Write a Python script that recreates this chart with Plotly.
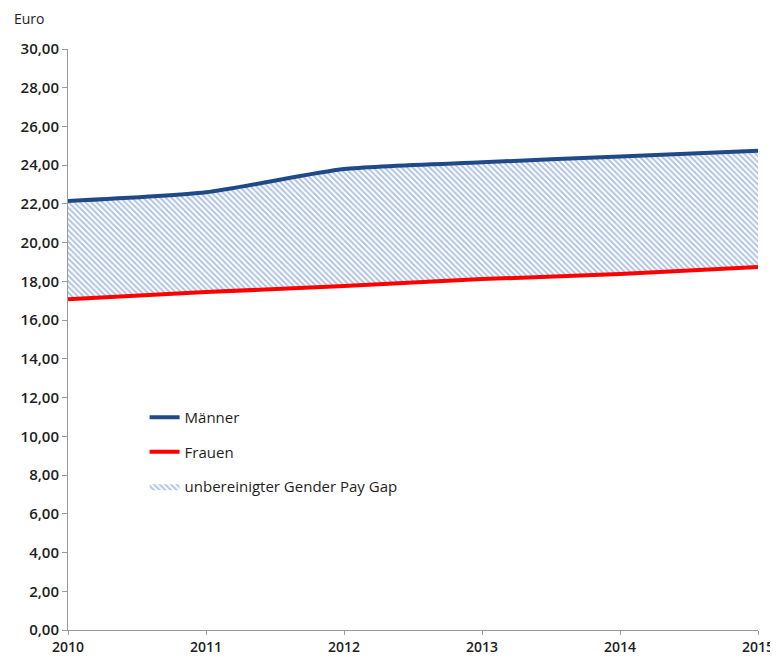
import plotly.graph_objects as go

years = [2010, 2011, 2012, 2013, 2014, 2015]
maenner = [22.15, 22.6, 23.8, 24.15, 24.45, 24.75]
frauen = [17.08, 17.45, 17.76, 18.12, 18.38, 18.74]
y_ticks = [0, 2, 4, 6, 8, 10, 12, 14, 16, 18, 20, 22, 24, 26, 28, 30]

navy = "#1F4A87"
red = "#FF0000"
font_fam = "Open Sans, Liberation Sans, Arial"
txt = "#1e1e1e"

fig = go.Figure()

# base (invisible) for the gap fill
fig.add_trace(go.Scatter(x=years, y=frauen, mode="lines", line=dict(width=0, color="rgba(0,0,0,0)"),
                         showlegend=False, hoverinfo="skip"))
fig.add_trace(go.Scatter(x=years, y=maenner, mode="lines",
                         line=dict(width=0, shape="spline", smoothing=0.6, color="rgba(0,0,0,0)"),
                         fill="tonexty", fillcolor="white",
                         fillpattern=dict(shape="\\", fgcolor="#6388C8", bgcolor="white", size=4, solidity=0.5),
                         name="unbereinigter Gender Pay Gap", legendgroup="c", legendrank=3))
fig.add_trace(go.Scatter(x=years, y=maenner, mode="lines", name="Männer",
                         line=dict(color=navy, width=4, shape="spline", smoothing=0.6),
                         legendgroup="a", legendrank=1))
fig.add_trace(go.Scatter(x=years, y=frauen, mode="lines", name="Frauen",
                         line=dict(color=red, width=4),
                         legendgroup="b", legendrank=2))

fig.update_layout(
    width=770, height=648,
    margin=dict(l=60, r=20, t=41, b=26),
    paper_bgcolor="white", plot_bgcolor="white",
    separators=",.",
    font=dict(family=font_fam, size=14, color=txt),
    showlegend=True,
    legend=dict(x=0.111, y=0.394, xanchor="left", yanchor="top",
                bgcolor="rgba(0,0,0,0)", tracegroupgap=12,
                font=dict(size=15, color=txt)),
    xaxis=dict(range=[2010, 2015], tickmode="array", tickvals=years,
               ticktext=[str(y) for y in years], showgrid=False, zeroline=False,
               showline=True, linecolor="#9a9a9a", linewidth=1,
               ticks="outside", ticklen=4, tickcolor="#9a9a9a", automargin=False,
               ticklabeloverflow="allow",
               tickfont=dict(size=14, color=txt, weight=600), fixedrange=True),
    yaxis=dict(range=[0, 30], tickmode="array", tickvals=y_ticks, tickformat=".2f",
               showgrid=False, zeroline=False, automargin=False,
               showline=True, linecolor="#9a9a9a", linewidth=1,
               ticks="outside", ticklen=5, tickcolor="#9a9a9a",
               tickfont=dict(size=15, color=txt, weight=600)),
)
fig.add_annotation(text="Euro", xref="paper", yref="paper", x=-0.081, y=1.053,
                   xanchor="left", yanchor="middle", showarrow=False,
                   font=dict(size=14, color=txt))

fig.write_html("out.html")
